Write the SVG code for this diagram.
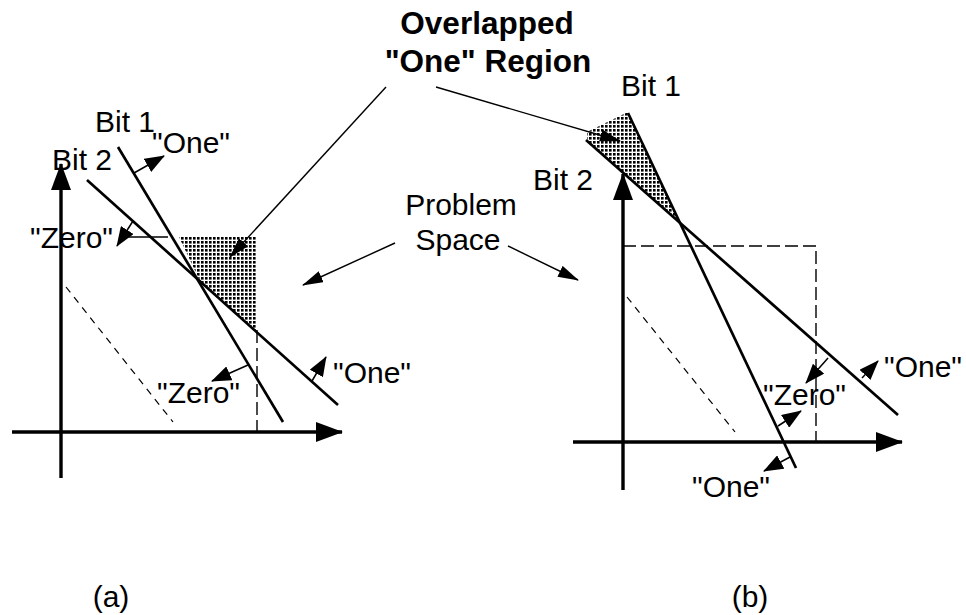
<svg xmlns="http://www.w3.org/2000/svg" width="966" height="615" viewBox="0 0 966 615">
<style>
text{font-family:"Liberation Sans",Arial,Helvetica,sans-serif;font-size:30px;fill:#000}
.b{font-weight:bold;font-size:31.5px}
.axis{stroke:#000;stroke-width:3.4;fill:none}
.bit{stroke:#000;stroke-width:2.7;fill:none}
.lead{stroke:#000;stroke-width:1.4;fill:none}
.sm{stroke:#000;stroke-width:1.5;fill:none}
.dsq{stroke:#000;stroke-width:1.4;fill:none;stroke-dasharray:13 5}
.ddg{stroke:#000;stroke-width:1.2;fill:none;stroke-dasharray:7 6}
.shade{fill:url(#dots)}
</style>
<defs>
<pattern id="dots" width="4" height="4" patternUnits="userSpaceOnUse">
<rect width="4" height="4" fill="#fff"/>
<rect x="1" y="1" width="2.6" height="2.6" fill="#000"/>
</pattern>
<marker id="ax" viewBox="0 0 27 20" refX="26" refY="10" markerWidth="27" markerHeight="20" markerUnits="userSpaceOnUse" orient="auto">
<path d="M0,0 L27,10 L0,20 z" fill="#000"/>
</marker>
<marker id="sa" viewBox="0 0 20 15" refX="19" refY="7.5" markerWidth="20" markerHeight="15" markerUnits="userSpaceOnUse" orient="auto">
<path d="M0,0 L20,7.5 L0,15 z" fill="#000"/>
</marker>
<marker id="la" viewBox="0 0 21 12" refX="20" refY="6" markerWidth="21" markerHeight="12" markerUnits="userSpaceOnUse" orient="auto">
<path d="M0,0 L21,6 L0,12 z" fill="#000"/>
</marker>
</defs>

<g id="panel-a">
<polygon class="shade" points="179,237 257,237 257,332 200,281"/>
<line class="sm" x1="124" y1="237" x2="168" y2="237"/>
<line class="dsq" x1="257" y1="330" x2="257" y2="432"/>
<line class="ddg" x1="66" y1="287" x2="173" y2="422"/>
<line class="axis" x1="61" y1="478" x2="61" y2="164" marker-end="url(#ax)"/>
<line class="axis" x1="12" y1="432" x2="342" y2="432" marker-end="url(#ax)"/>
<line class="bit" x1="118" y1="147" x2="283" y2="422"/>
<line class="bit" x1="87" y1="180" x2="338" y2="405"/>
</g>

<g id="panel-b">
<polygon class="shade" points="587,132 628,112 679,222 587,140"/>
<polyline class="dsq" points="623,246 816,246 816,442"/>
<line class="ddg" x1="627" y1="297" x2="735" y2="432"/>
<line class="axis" x1="623" y1="490" x2="623" y2="174" marker-end="url(#ax)"/>
<line class="axis" x1="573" y1="442" x2="902" y2="442" marker-end="url(#ax)"/>
<line class="bit" x1="628" y1="113" x2="796" y2="468"/>
<line class="bit" x1="586" y1="140" x2="898" y2="415"/>
</g>

<g id="connectors">
<line class="sm" x1="134" y1="173" x2="164" y2="156" marker-end="url(#sa)"/>
<line class="sm" x1="133" y1="221" x2="117" y2="246" marker-end="url(#sa)"/>
<line class="sm" x1="248" y1="365" x2="212" y2="381" marker-end="url(#sa)"/>
<line class="sm" x1="312" y1="381" x2="326" y2="357" marker-end="url(#sa)"/>
<line class="sm" x1="828" y1="358" x2="806" y2="383" marker-end="url(#sa)"/>
<line class="sm" x1="862" y1="378" x2="878" y2="361" marker-end="url(#sa)"/>
<line class="sm" x1="778" y1="426" x2="801" y2="411" marker-end="url(#sa)"/>
<line class="sm" x1="790" y1="457" x2="764" y2="471" marker-end="url(#sa)"/>
<path class="lead" d="M386,87 L230,257" marker-end="url(#la)"/>
<path class="lead" d="M436,87 L620,141" marker-end="url(#la)"/>
<path class="lead" d="M395,243 L303,285" marker-end="url(#la)"/>
<path class="lead" d="M508,246 L578,280" marker-end="url(#la)"/>
</g>

<g id="labels-a">
<text x="95" y="132">Bit 1</text>
<text x="52" y="170">Bit 2</text>
<text x="152" y="153">"One"</text>
<text x="30" y="248">"Zero"</text>
<text x="157" y="403">"Zero"</text>
<text x="333" y="383">"One"</text>
</g>
<g id="labels-b">
<text x="621" y="96">Bit 1</text>
<text x="533" y="190">Bit 2</text>
<text x="763" y="405">"Zero"</text>
<text x="884" y="377">"One"</text>
<text x="692" y="497">"One"</text>
</g>
<g id="label-overlap">
<text class="b" x="487" y="34" text-anchor="middle">Overlapped</text>
<text class="b" x="488" y="72" text-anchor="middle">"One" Region</text>
</g>
<g id="label-space">
<text x="461" y="215" text-anchor="middle">Problem</text>
<text x="458" y="250" text-anchor="middle">Space</text>
</g>
<g id="captions">
<text x="111" y="607" text-anchor="middle">(a)</text>
<text x="750" y="607" text-anchor="middle">(b)</text>
</g>
</svg>
